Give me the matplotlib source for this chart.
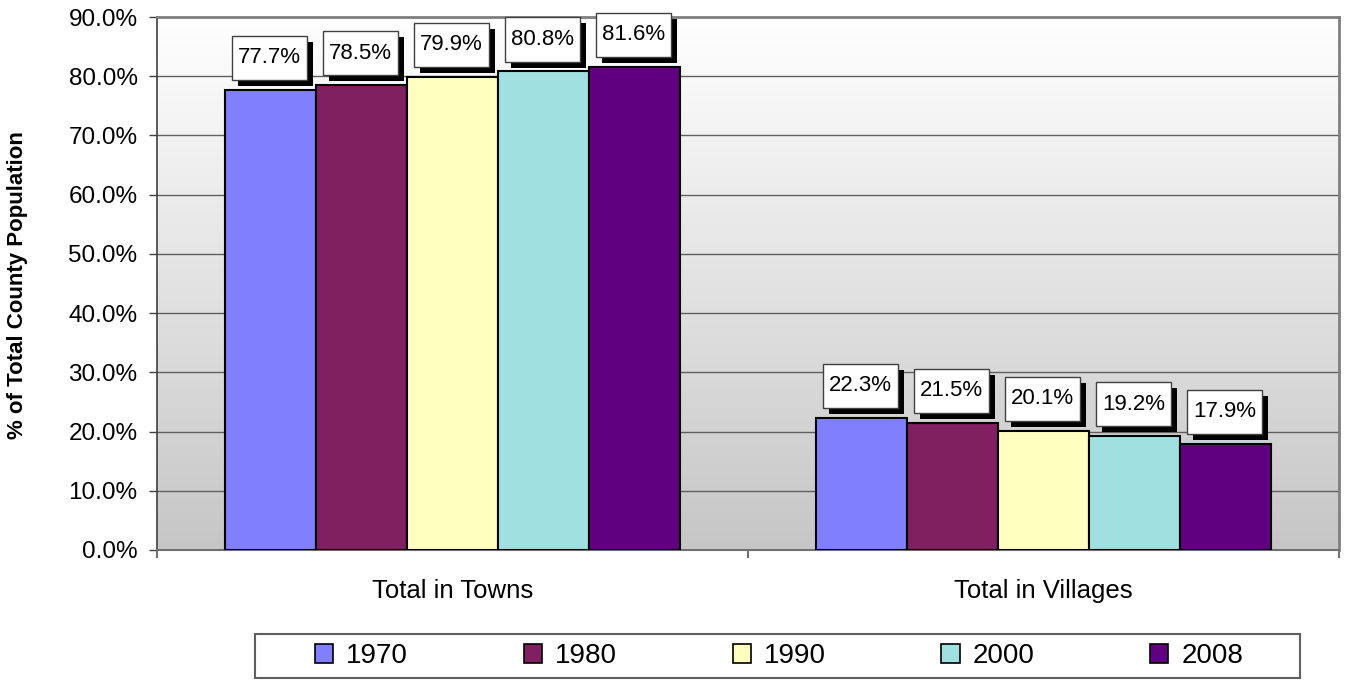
import numpy as np
import matplotlib.pyplot as plt
import matplotlib.patheffects as pe
from matplotlib.colors import LinearSegmentedColormap
from matplotlib.patches import Rectangle
from matplotlib.path import Path
from matplotlib.ticker import FuncFormatter

plt.rcParams['font.family'] = ['Liberation Sans', 'DejaVu Sans']

categories = ["Total in Towns", "Total in Villages"]
years = ["1970", "1980", "1990", "2000", "2008"]
towns = [77.7, 78.5, 79.9, 80.8, 81.6]
villages = [22.3, 21.5, 20.1, 19.2, 17.9]
colors = ["#8080FF", "#802060", "#FFFFC0", "#A0E0E0", "#600080"]

values = np.array([towns, villages])  # rows = category, cols = year


def label_box(x0, y0, width, height, mutation_size):
    # square box, a bit more padding top/bottom than left/right
    px = 0.26 * mutation_size
    py = 0.52 * mutation_size
    x0, y0 = x0 - px, y0 - py
    x1, y1 = x0 + width + 2 * px, y0 + height + 2 * py
    return Path([(x0, y0), (x1, y0), (x1, y1), (x0, y1), (x0, y0)],
                [Path.MOVETO, Path.LINETO, Path.LINETO, Path.LINETO, Path.CLOSEPOLY])


fig = plt.figure(figsize=(13.46, 6.8), dpi=100)
ax = fig.add_axes([157 / 1346, 1 - 550 / 680, (1339 - 157) / 1346, (550 - 17) / 680])

# gradient background of the plot area
bg = LinearSegmentedColormap.from_list("bg", ["#ffffff", "#c6c6c6"])
grad = np.linspace(0, 1, 256).reshape(-1, 1)
ax.imshow(grad, extent=(-0.5, 1.5, 0, 90), aspect='auto', cmap=bg,
          origin='upper', zorder=0)

x = np.arange(len(categories))
width = 0.154
for i, yr in enumerate(years):
    pos = x + (i - 2) * width
    ax.bar(pos, values[:, i], width, color=colors[i], edgecolor='black',
           linewidth=1.5, label=yr, zorder=3)
    for xp, v in zip(pos, values[:, i]):
        t = ax.annotate(f"{v:.1f}%", (xp, v), xytext=(-1, 32), textcoords='offset pixels',
                        ha='center', va='center', fontsize=16, color='black',
                        bbox=dict(boxstyle=label_box, fc='white', ec='#404040', lw=1),
                        zorder=5)
        t.get_bbox_patch().set_path_effects([
            pe.withSimplePatchShadow(offset=(4.3, -4.3), shadow_rgbFace='black', alpha=1)])

ax.set_xlim(-0.5, 1.5)
ax.set_ylim(0, 90)
ax.set_yticks(np.arange(0, 91, 10))
ax.yaxis.set_major_formatter(FuncFormatter(lambda v, p: f"{v:.1f}%"))
ax.grid(axis='y', color='#606060', linewidth=1, zorder=1)
ax.set_axisbelow(True)

ax.set_xticks(x)
ax.set_xticklabels(categories)
ax.set_xticks([-0.5, 0.5, 1.5], minor=True)
ax.tick_params(axis='x', which='major', length=0, pad=21, labelsize=18.5)
ax.tick_params(axis='x', which='minor', length=6, width=1.5, color='#707070')
ax.tick_params(axis='y', length=6, width=1, color='#404040', pad=8, labelsize=17.5)

for s in ['top', 'right']:
    ax.spines[s].set_color('#808080')
    ax.spines[s].set_linewidth(2)
ax.spines['left'].set_color('#404040')
ax.spines['left'].set_linewidth(1.2)
ax.spines['bottom'].set_color('#707070')
ax.spines['bottom'].set_linewidth(1.5)

fig.text(18 / 1346, 1 - 285 / 680, "% of Total County Population", rotation=90,
         ha='center', va='center', fontsize=16, fontweight='bold')

# legend frame
fig.patches.append(Rectangle((255 / 1346, 2 / 680), 1045 / 1346, 44 / 680,
                             transform=fig.transFigure, fc='white', ec='#606060',
                             lw=1.5, zorder=1))
leg = fig.legend(loc='center', ncol=5, bbox_to_anchor=(779 / 1346, 1 - 656 / 680),
                 fontsize=20, frameon=False, handlelength=0.65, handleheight=0.65,
                 handletextpad=0.47, columnspacing=4.17, borderaxespad=0)
leg.set_zorder(2)
for h in leg.legend_handles:
    h.set_linewidth(1.2)

fig.savefig("out.png", dpi=100)
